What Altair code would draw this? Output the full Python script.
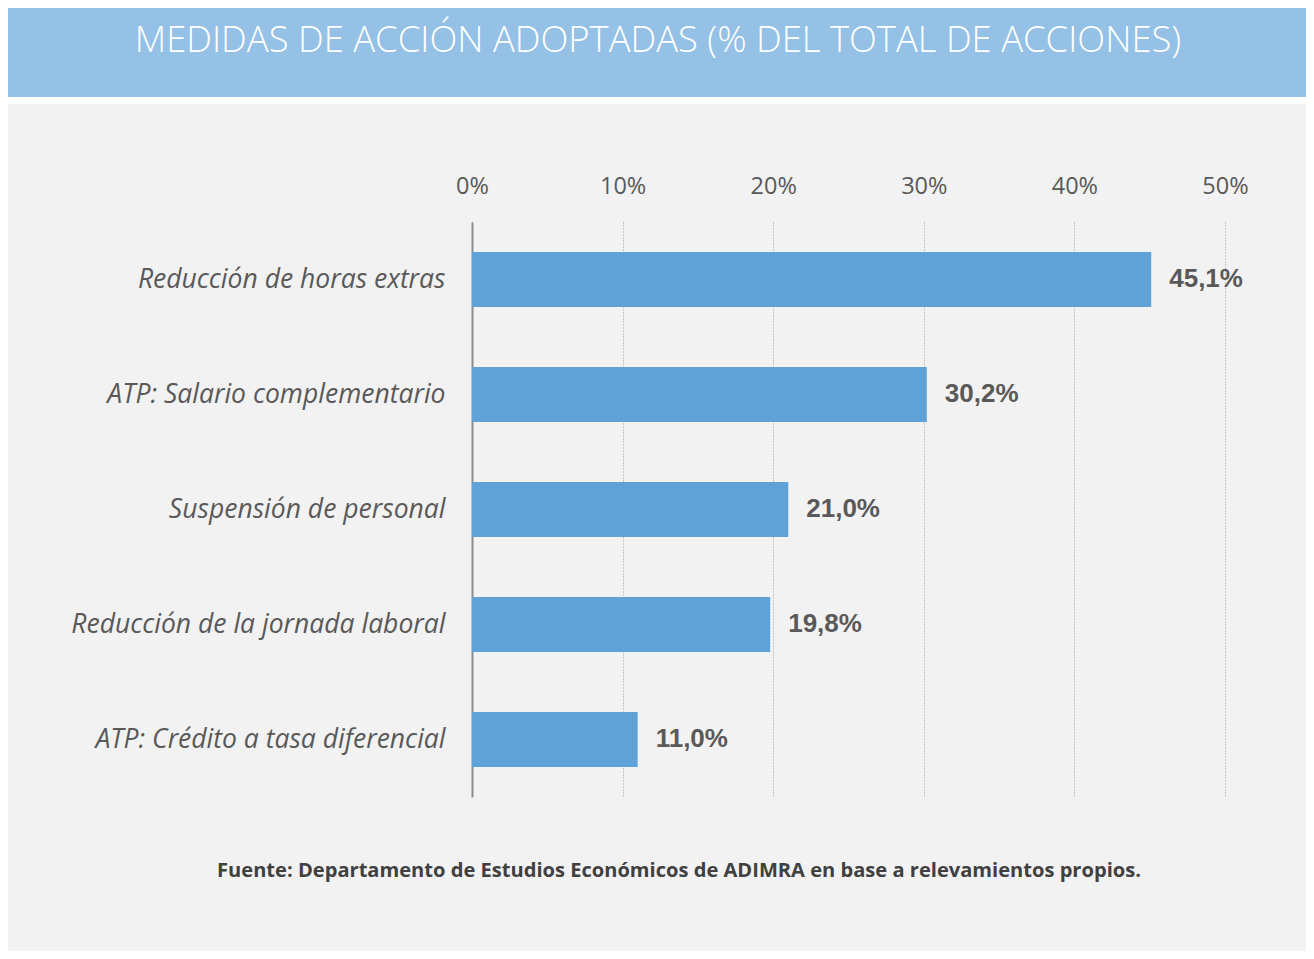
import altair as alt
import pandas as pd

categories = [
    "Reducción de horas extras",
    "ATP: Salario complementario",
    "Suspensión de personal",
    "Reducción de la jornada laboral",
    "ATP: Crédito a tasa diferencial",
]
values = [45.1, 30.2, 21.0, 19.8, 11.0]
x_ticks = [0, 10, 20, 30, 40, 50]
title_text = ["MEDIDAS DE ACCIÓN ADOPTADAS (% DEL TOTAL DE ACCIONES)"]
source_text = ["Fuente: Departamento de Estudios Económicos de ADIMRA en base a relevamientos propios."]

df = pd.DataFrame({
    "cat": categories,
    "val": values,
    "lab": [f"{v:.1f}".replace(".", ",") + "%" for v in values],
})

W, H = 753, 575
GREY = "#595959"

# decoration: blue title band and white gap above the grey panel
band = alt.Chart(pd.DataFrame({"k": ["band"]})).mark_rect(color="#94C1E5").encode(
    x=alt.value(-464), x2=alt.value(840), y=alt.value(-214), y2=alt.value(-125)
)
gap = alt.Chart(pd.DataFrame({"k": ["gap"]})).mark_rect(color="white").encode(
    x=alt.value(-464), x2=alt.value(840), y=alt.value(-125), y2=alt.value(-118)
)
title = alt.Chart(pd.DataFrame({"t": title_text})).mark_text(
    color="white", fontSize=36.4, font="Open Sans", fontWeight=300, align="center", baseline="middle"
).encode(x=alt.value(186), y=alt.value(-181), text="t:N")
source = alt.Chart(pd.DataFrame({"t": source_text})).mark_text(
    color="#404040", fontSize=20.1, font="Open Sans", fontWeight="bold", align="center", baseline="middle"
).encode(x=alt.value(207), y=alt.value(649), text="t:N")

xenc = alt.X(
    "val:Q",
    scale=alt.Scale(domain=[0, 50], nice=False),
    axis=alt.Axis(
        orient="top", values=x_ticks, title=None, labelExpr="datum.value + '%'",
        ticks=False, domain=False, labelPadding=24, labelFontSize=23.5, labelColor=GREY,
        labelFont="Open Sans", labelFlush=False,
        grid=True, gridColor="#999999", gridDash=[1, 2], gridWidth=1,
    ),
)
yenc = alt.Y(
    "cat:N", sort=categories,
    scale=alt.Scale(paddingInner=0.52, paddingOuter=0.26),
    axis=alt.Axis(
        title=None, ticks=False, labelPadding=27, labelFontSize=26.5, labelColor=GREY,
        labelFont="Open Sans", labelFontStyle="italic", labelLimit=600,
        domain=True, domainColor="#8C8C8C", domainWidth=2,
    ),
)

bars = alt.Chart(df).mark_bar(color="#5FA2D8").encode(x=xenc, y=yenc)
labels = alt.Chart(df).mark_text(
    align="left", dx=18, dy=-1, fontSize=26, fontWeight="bold", color=GREY, font="Liberation Sans"
).encode(x="val:Q", y=alt.Y("cat:N", sort=categories), text="lab:N")

chart = alt.layer(bars, labels, band, gap, title, source).properties(
    width=W, height=H,
    autosize=alt.AutoSizeParams(type="none"),
    padding={"left": 464, "top": 214, "right": 81, "bottom": 154},
    background="#F2F2F2",
).configure_view(stroke=None)

chart.save("out.html", embed_options={"renderer": "svg", "actions": False})
